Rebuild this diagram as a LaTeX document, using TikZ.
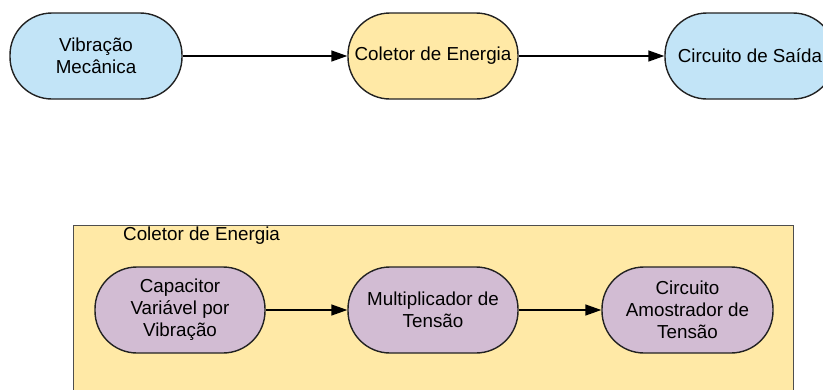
\documentclass[tikz,border=0pt]{standalone}
\usepackage{fontspec}
\setmainfont{Liberation Sans}
\usetikzlibrary{arrows.meta}
\definecolor{lblue}{HTML}{C2E4F7}
\definecolor{lyellow}{HTML}{FFE9A6}
\definecolor{lpurple}{HTML}{D2BCD3}
\definecolor{edge}{HTML}{222222}
\tikzset{
  pill/.style={draw=edge, line width=1.4pt, rounded corners=42pt, minimum width=170pt, minimum height=86pt, align=center, font=\fontsize{18.8}{22}\selectfont, inner sep=0pt},
  conn/.style={line width=1.4pt, draw=black, -{Triangle[length=16pt,width=11pt]}}
}
\begin{document}
\begin{tikzpicture}[x=1pt,y=-1pt]
\useasboundingbox (0,0) rectangle (823,389);
\clip (0,0) rectangle (823,389);
\fill[white] (0,0) rectangle (823,389);
% top row
\node[pill, fill=lblue, minimum width=172pt] (vib) at (96,56) {Vibração\\Mecânica};
\node[pill, fill=lyellow] (col) at (433,56) {Coletor de Energia};
\node[pill, fill=lblue] (out) at (750,56) {Circuito de Saída};
\draw[conn] (vib) -- (col);
\draw[conn] (col) -- (out);
% container
\node[draw=edge!80, line width=1.2pt, fill=lyellow, minimum width=720pt, minimum height=200pt, anchor=north west, inner sep=0pt] (box) at (73,225) {};
\node[anchor=west, font=\fontsize{18.8}{22}\selectfont, inner sep=0pt] (title) at (123,236) {Coletor de Energia};
% bottom row
\node[pill, fill=lpurple] (cap) at (180,310) {Capacitor\\Variável por\\Vibração};
\node[pill, fill=lpurple] (mul) at (433,310) {Multiplicador de\\Tensão};
\node[pill, fill=lpurple, minimum width=171pt] (amo) at (687.5,310) {Circuito\\Amostrador de\\Tensão};
\draw[conn] (cap) -- (mul);
\draw[conn] (mul) -- (amo);
\end{tikzpicture}
\end{document}
